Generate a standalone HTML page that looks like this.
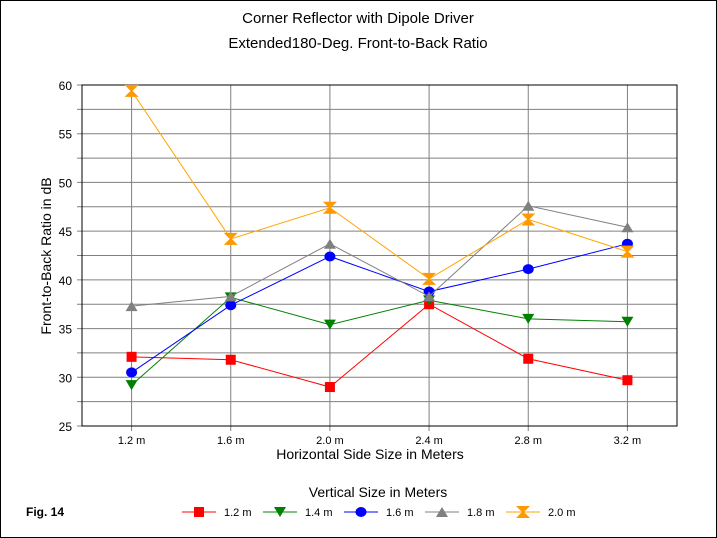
<!DOCTYPE html>
<html><head><meta charset="utf-8"><style>
body{margin:0;background:#fff}
svg{display:block;font-family:"Liberation Sans",Arial,sans-serif}
</style></head><body>
<svg width="717" height="538" viewBox="0 0 717 538">
<rect x="0.5" y="0.5" width="716" height="537" fill="#fff" stroke="#000"/>
<text x="358" y="23" font-size="15" text-anchor="middle">Corner Reflector with Dipole Driver</text>
<text x="358" y="48" font-size="15" text-anchor="middle">Extended180-Deg. Front-to-Back Ratio</text>
<g id="grid"></g>
<rect x="82" y="85" width="595" height="341" fill="none" stroke="#000"/>
<g id="series"></g>
<text x="370" y="459" font-size="14" text-anchor="middle">Horizontal Side Size in Meters</text>
<text transform="translate(51,256) rotate(-90)" font-size="14" text-anchor="middle">Front-to-Back Ratio in dB</text>
<text x="378" y="497" font-size="14" text-anchor="middle">Vertical Size in Meters</text>
<text x="26" y="516" font-size="12" font-weight="bold">Fig. 14</text>
<g id="legend"></g>
</svg>
<script>
const categories=["1.2 m","1.6 m","2.0 m","2.4 m","2.8 m","3.2 m"];
const yTicks=[25,30,35,40,45,50,55,60];
const seriesNames=["1.2 m","1.4 m","1.6 m","1.8 m","2.0 m"];
const s12=[32.1,31.8,29.0,37.5,31.9,29.7];
const s14=[29.2,38.2,35.4,37.9,36.0,35.7];
const s16=[30.5,37.4,42.4,38.8,41.1,43.7];
const s18=[37.3,38.3,43.7,38.3,47.6,45.4];
const s20=[59.4,44.2,47.4,40.1,46.2,42.9];
const NS="http://www.w3.org/2000/svg";
const L=82,R=677,T=85,B=426,ymin=25,ymax=60;
const xs=i=>L+(R-L)*(i+0.5)/categories.length;
const ys=v=>B-(v-ymin)/(ymax-ymin)*(B-T);
function mk(t,a,p){const e=document.createElementNS(NS,t);for(const k in a)e.setAttribute(k,a[k]);p.appendChild(e);return e;}
const grid=document.getElementById('grid');
for(let v=ymin;v<=ymax;v+=2.5){const y=ys(v);
 const g=mk('line',{x1:L-5,x2:R,y1:y,y2:y,stroke:'#808080'},grid);
 
 }
yTicks.forEach(v=>{const t=mk('text',{x:L-10,y:ys(v)+5,'font-size':12,'text-anchor':'end'},grid);t.textContent=v;
 
 });
categories.forEach((c,i)=>{const x=xs(i);
 const g=mk('line',{x1:x,x2:x,y1:T,y2:B+5,stroke:'#808080'},grid);
 
 
 const t=mk('text',{x:x,y:B+18,'font-size':11,'text-anchor':'middle'},grid);t.textContent=c;
 
 });
const colors=["#ff0000","#008000","#0000ff","#808080","#ffa500"];
const mcol=["#ff0000","#008000","#0000ff","#808080","#ff9900"];
const data=[s12,s14,s16,s18,s20];
function marker(k,x,y,p){let e;const c=mcol[k];
 if(k==0)e=mk('rect',{x:x-5,y:y-5,width:10,height:10,fill:c},p);
 else if(k==1)e=mk('polygon',{points:`${x-6},${y-5} ${x+6},${y-5} ${x},${y+5}`,fill:c},p);
 else if(k==2)e=mk('ellipse',{cx:x,cy:y,rx:5.5,ry:5,fill:c},p);
 else if(k==3)e=mk('polygon',{points:`${x-6},${y+5} ${x+6},${y+5} ${x},${y-5}`,fill:c},p);
 else e=mk('polygon',{points:`${x-7},${y-6} ${x+7},${y-6} ${x+1},${y} ${x+7},${y+6} ${x-7},${y+6} ${x-1},${y}`,fill:c},p);
 return e;}
const sg=document.getElementById('series');
data.forEach((d,k)=>{
 const pl=mk('polyline',{points:d.map((v,i)=>xs(i)+','+ys(v)).join(' '),fill:'none',stroke:colors[k],'stroke-width':1},sg);
 
 
 d.forEach((v,i)=>{const m=marker(k,xs(i),ys(v),sg);
  
  });});
const lg=document.getElementById('legend');
const lx=[182,263,344,425,506];
seriesNames.forEach((n,k)=>{const x=lx[k],y=512;
 const l=mk('line',{x1:x,x2:x+34,y1:y,y2:y,stroke:colors[k]},lg);
 
 
 const m=marker(k,x+17,y,lg);
 
 
 const t=mk('text',{x:x+42,y:y+4,'font-size':11},lg);t.textContent=n;
 
 });
</script>
</body></html>
